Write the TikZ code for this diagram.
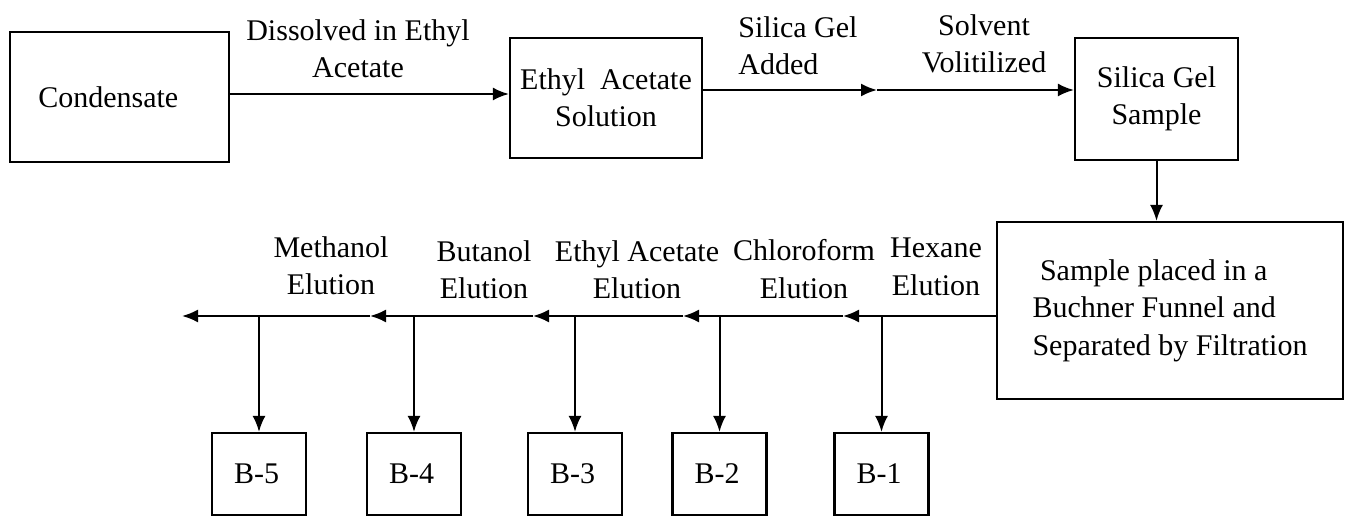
\documentclass[tikz,border=0pt]{standalone}
\usepackage{fontspec}
\setmainfont{Liberation Serif}
\usetikzlibrary{arrows.meta}
\tikzset{
  procbox/.style={draw,line width=1.1pt,inner sep=0pt,align=center},
  flow/.style={line width=1pt,-{Latex[length=8pt,width=6.5pt]}},
  steplabel/.style={inner sep=0pt,align=center},
}
\begin{document}
\begin{tikzpicture}[x=0.5pt,y=-0.5pt,font=\fontsize{15}{18.7}\selectfont]
  \useasboundingbox (0,0) rectangle (1350,517);
  % top row: condensate, solution, silica gel sample
  \node[procbox,minimum width=109.5pt,minimum height=65pt] (cond) at (119.5,97) {Condensate\ \ \ };
  \node[procbox,minimum width=96pt,minimum height=60pt] (easol) at (606,98) {Ethyl\ \ Acetate\\Solution};
  \node[procbox,minimum width=81.5pt,minimum height=61pt] (sgsamp) at (1156.5,99) {Silica Gel\\Sample};
  \node[procbox,minimum width=173pt,minimum height=88.5pt,align=left] (buch) at (1170,310.5)
    {\ Sample placed in a\\Buchner Funnel and\\Separated by Filtration};
  % fractions B-1 ... B-5
  \foreach \n/\x in {1/881.5,2/719.5,3/575,4/414,5/259}
    \node[procbox,minimum width=47pt,minimum height=41pt] (b\n) at (\x,474) {B-\n\,};
  % arrows of the top row
  \coordinate (tip0) at (877,90);
  \draw[flow] ([yshift=1.5pt]cond.east) -- ([yshift=1.5pt]cond.east -| easol.west);
  \draw[flow] (easol.east |- tip0) -- (tip0);
  \draw[flow] (tip0) -- (sgsamp.west |- tip0);
  \draw[flow] (sgsamp.south) -- (sgsamp.south |- buch.north);
  % elution line, right to left
  \coordinate (h1) at (843,316);
  \coordinate (h2) at (683,316);
  \coordinate (h3) at (533,316);
  \coordinate (h4) at (370,316);
  \coordinate (h5) at (182,316);
  \draw[flow] (buch.west |- h1) -- (h1);
  \foreach \a/\b in {h1/h2,h2/h3,h3/h4,h4/h5}
    \draw[flow] (\a) -- (\b);
  \foreach \n in {1,...,5}
    \draw[flow] (b\n.north |- h1) -- (b\n.north);
  % labels over the arrows
  \node[steplabel] (ldis) at (358,49) {Dissolved in Ethyl\\Acetate};
  \node[steplabel,anchor=west,align=left] (ladd) at (738,46) {Silica Gel\\Added};
  \node[steplabel] (lvol) at (984,44) {Solvent\\Volitilized};
  \node[steplabel] (lmeth) at (331,266) {Methanol\\Elution};
  \node[steplabel] (lbut) at (484,270) {Butanol\\Elution};
  \node[steplabel] (lea) at (637,270) {Ethyl Acetate\\Elution};
  \node[steplabel] (lchl) at (804,269) {Chloroform\\Elution};
  \node[steplabel] (lhex) at (936,267) {Hexane\\Elution};
\end{tikzpicture}
\end{document}
